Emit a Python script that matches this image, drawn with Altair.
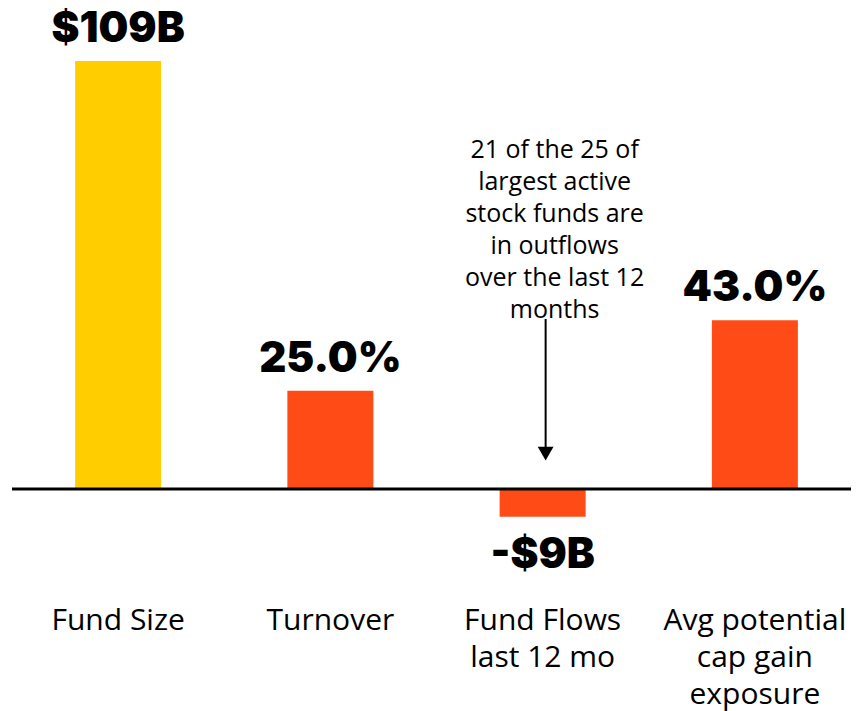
import altair as alt
import pandas as pd

# ---- data ----
categories = ["Fund Size", "Turnover", "Fund Flows|last 12 mo", "Avg potential|cap gain|exposure"]
bar_values = [109, 25, -7.1, 43]          # bar lengths as drawn
value_labels = ["$109B", "25.0%", "-$9B", "43.0%"]
bar_groups = ["size", "other", "other", "other"]
group_colors = ["#FFCD00", "#FF4B16"]

note_text = "21 of the 25 of\nlargest active\nstock funds are\nin outflows\nover the last 12\nmonths"
note_category = "Fund Flows|last 12 mo"
note_top = 89.4        # where the note starts (y units)
arrow_start = 43.3     # arrow shaft start (y units)
arrow_end = 10.5       # arrow shaft end (y units)
arrow_head = 9.0       # arrow head centre (y units)

df = pd.DataFrame({
    "category": categories,
    "value": bar_values,
    "label": value_labels,
    "group": bar_groups,
})
note_df = pd.DataFrame({"category": [note_category], "y": [note_top], "text": [note_text]})
arrow_df = pd.DataFrame({"category": [note_category], "y": [arrow_start], "y2": [arrow_end], "h": [arrow_head]})
zero_df = pd.DataFrame({"z": [0]})

y_scale = alt.Scale(domain=[-28.3, 121.0], nice=False, zero=False)
x_scale = alt.Scale(domain=categories, paddingInner=0, paddingOuter=0, range=[0, 849])
x_enc = alt.X(
    "category:N",
    sort=categories,
    scale=x_scale,
    axis=alt.Axis(
        title=None, orient="bottom", domain=False, ticks=False, labelAngle=0,
        labelExpr="split(datum.value, '|')", labelFont="Open Sans", labelFontSize=30,
        labelColor="#000000", labelLineHeight=37, labelPadding=5, labelBaseline="top",
        labelFlush=False, labelOverlap=False, labelLimit=0,
    ),
)
x_plain = alt.X("category:N", sort=categories, scale=x_scale)

base = alt.Chart(df).encode(x=x_enc)

bars = base.mark_bar(size=86).encode(
    y=alt.Y("value:Q", scale=y_scale, axis=None),
    color=alt.Color("group:N", scale=alt.Scale(domain=["size", "other"], range=group_colors), legend=None),
)

pos_labels = base.transform_filter("datum.value >= 0").mark_text(
    font="Inter", fontWeight=900, fontSize=42, baseline="alphabetic", dy=-19, color="#000000"
).encode(y=alt.Y("value:Q", scale=y_scale), text="label:N")

neg_labels = base.transform_filter("datum.value < 0").mark_text(
    font="Inter", fontWeight=900, fontSize=42, baseline="alphabetic", dy=51, color="#000000"
).encode(y=alt.Y("value:Q", scale=y_scale), text="label:N")

note = alt.Chart(note_df).mark_text(
    font="Open Sans", fontSize=25, lineHeight=32, baseline="top", align="center",
    lineBreak="\n", color="#000000", xOffset=12,
).encode(x=x_plain, y=alt.Y("y:Q", scale=y_scale), text="text:N")

shaft = alt.Chart(arrow_df).mark_rule(color="#000000", strokeWidth=2, xOffset=3).encode(
    x=x_plain, y=alt.Y("y:Q", scale=y_scale), y2="y2:Q"
)
head = alt.Chart(arrow_df).mark_point(
    shape="triangle-down", size=250, filled=True, color="#000000", opacity=1, xOffset=3
).encode(x=x_plain, y=alt.Y("h:Q", scale=y_scale))

baseline = alt.Chart(zero_df).mark_rule(color="#000000", strokeWidth=3).encode(
    y=alt.Y("z:Q", scale=y_scale)
)

chart = alt.layer(bars, pos_labels, neg_labels, note, shaft, head, baseline).properties(
    width=839, height=586,
    autosize=alt.AutoSizeParams(type="none"),
    padding={"left": 4, "top": 6, "right": 0, "bottom": 111},
).configure_view(strokeWidth=0)

chart.save("out.html", embed_options={"renderer": "svg", "actions": False})
